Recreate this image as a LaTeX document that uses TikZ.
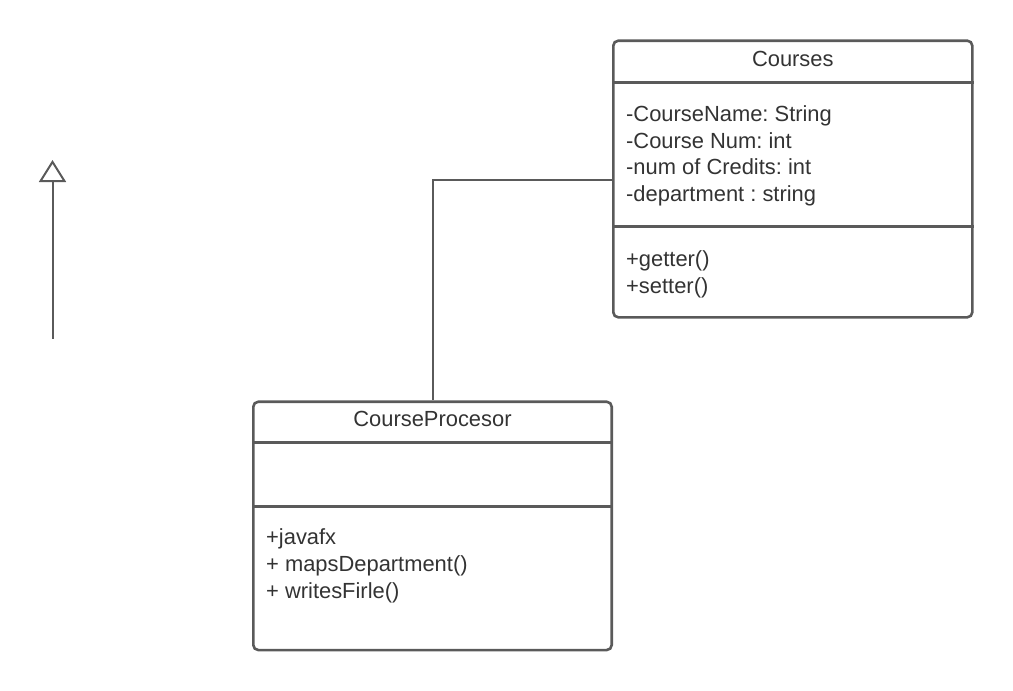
\documentclass[tikz,border=0pt]{standalone}
\usepackage{fontspec}
\setmainfont{Liberation Sans}
\usetikzlibrary{positioning,arrows.meta}
\definecolor{umlgray}{HTML}{5A5A5A}
\definecolor{umltext}{HTML}{333333}
\frenchspacing

\begin{document}
\begin{tikzpicture}[
		x=1pt, y=-1pt,
		>={Triangle[open, length=22pt, width=27pt]},
		every node/.style={font=\fontsize{21.9}{26}\selectfont, text=umltext, inner sep=0},
		classbox/.style={draw=umlgray, line width=2.6pt, rounded corners=5pt},
		title/.style={anchor=base},
		member/.style={anchor=base west},
		divider/.style={draw=umlgray, line width=2.6pt},
		link/.style={draw=umlgray, line width=2pt}
	]
	\useasboundingbox (0,0) rectangle (1013,691);

	\begin{scope}
		\node(courses)[classbox, minimum width=359, minimum height=276.6] at (792.8,179) {};
		\node(coursesName)[title] at (792.8,66) {Courses};
		\draw[divider] (courses.west |- 0,82.3) -- (courses.east |- 0,82.3);
		\draw[divider] (courses.west |- 0,226.7) -- (courses.east |- 0,226.7);
		
		\node(courseName)[member] at (626,121.5) {-CourseName: String};
		\node(courseNum)[member] at (626,148.2) {-Course Num: int};
		\node(credits)[member] at (626,174.9) {-num of Credits: int};
		\node(department)[member] at (626,201.6) {-department : string};
		\node(getter)[member] at (626,266.5) {+getter()};
		\node(setter)[member] at (626,293.2) {+setter()};
	\end{scope}

	\begin{scope}
		\node(procesor)[classbox, minimum width=358.4, minimum height=248.3] at (432.5,525.9) {};
		\node(procesorName)[title] at (432.5,426) {CourseProcesor};
		\draw[divider] (procesor.west |- 0,442.3) -- (procesor.east |- 0,442.3);
		\draw[divider] (procesor.west |- 0,506.7) -- (procesor.east |- 0,506.7);
		
		\node(javafx)[member] at (266,544.7) {+javafx};
		\node(maps)[member] at (266,571.5) {+ mapsDepartment()};
		\node(writes)[member] at (266,598.3) {+ writesFirle()};
	\end{scope}

	\draw[link] (courses.west |- 0,179.5) -| (procesor.north);

	\coordinate(genTail) at (52.5,338.5);
	\coordinate(genHead) at (52.5,160);
	\draw[link, ->] (genTail) -- (genHead);
\end{tikzpicture}
\end{document}
